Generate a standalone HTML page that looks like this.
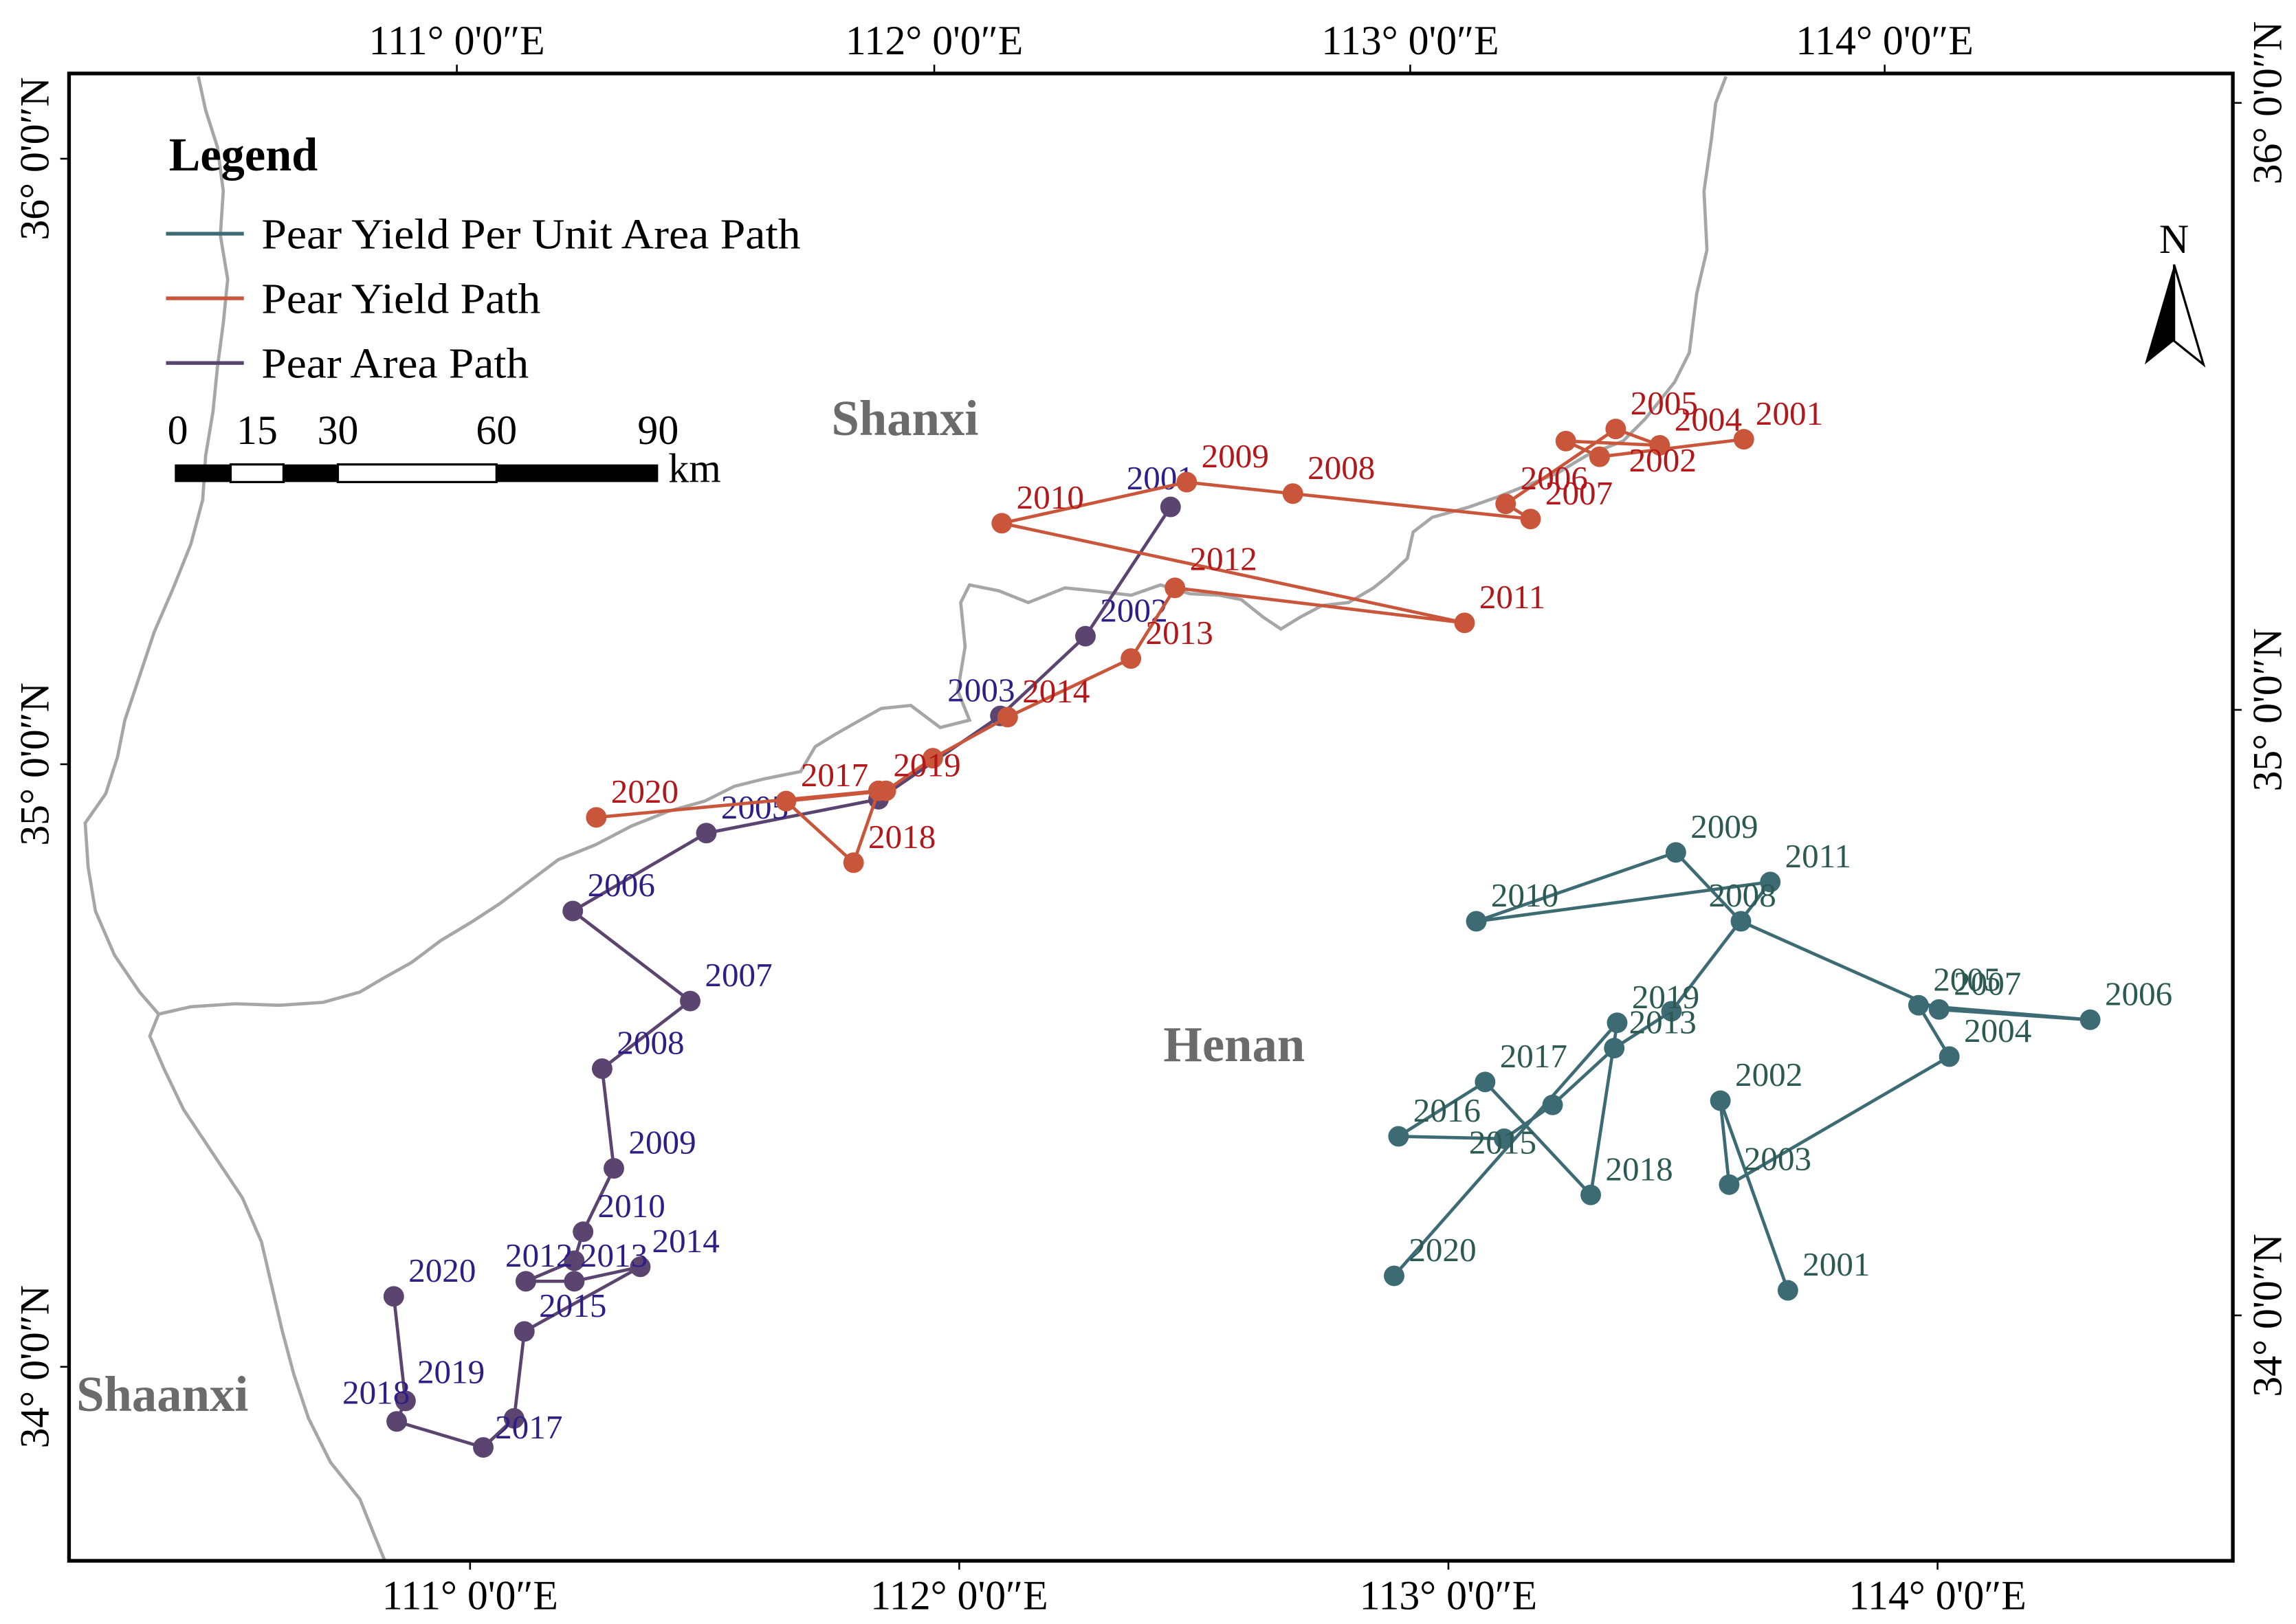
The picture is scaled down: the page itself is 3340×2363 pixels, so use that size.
<!DOCTYPE html>
<html><head><meta charset="utf-8">
<style>
html,body{margin:0;padding:0;background:#fff;}
svg{display:block;}
text{font-family:"Liberation Serif",serif;}
</style></head>
<body>
<svg id="map" width="3340" height="2363" viewBox="0 0 1563 1105" preserveAspectRatio="none" xmlns="http://www.w3.org/2000/svg">
<rect x="0" y="0" width="1563" height="1105" fill="#fff"/>
<g fill="none" stroke="#a6a6a6" stroke-width="2.2">
<path d="M1175,52 L1168,70 L1165,95 L1160,130 L1162,170 L1155,200 L1150,240 L1140,260 L1120,285 L1105,300 L1080,310 L1060,322 L1040,330 L1020,338 L1000,345 L975,352 L962,362 L958,380 L945,392 L935,400 L918,410 L900,412 L885,420 L872,428 L860,420 L845,408 L830,405 L810,404 L790,398 L770,405 L745,402 L725,400 L700,410 L680,402 L660,398 L654,410 L657,440 L652,470 L660,490 L640,495 L620,480 L600,482 L582,492 L568,500 L555,508 L545,525 L520,530 L500,535 L480,545 L455,552 L430,562 L405,575 L380,585 L360,600 L340,615 L320,628 L300,640 L280,655 L262,665 L245,675 L220,682 L190,684 L160,683 L130,685 L108,690 L102,705 L112,728 L125,755 L145,785 L165,815 L178,845 L185,875 L192,905 L200,935 L210,965 L225,995 L245,1020 L255,1045 L262,1062"/>
<path d="M135,52 L140,75 L148,100 L152,130 L150,160 L155,190 L152,220 L148,250 L145,280 L140,310 L138,340 L130,370 L118,400 L105,430 L95,460 L85,490 L80,515 L72,540 L58,560 L60,590 L65,620 L78,650 L95,675 L108,690"/>
</g>
<g>
<rect x="47" y="50" width="1473" height="1012" fill="none" stroke="#000" stroke-width="2.5"/>
</g>
<g id="ticks"></g>
<g id="paths"></g>
<g fill="#6b6b6b" font-weight="bold" font-size="34">
<text x="566" y="296">Shanxi</text>
<text x="792" y="722">Henan</text>
<text x="52" y="960">Shaanxi</text>
</g>
<g>
<text x="115" y="116" font-size="32" font-weight="bold">Legend</text>
<line x1="113" y1="159" x2="166" y2="159" stroke="#3d6b73" stroke-width="2.5"/>
<text x="178" y="169" font-size="29" textLength="367" lengthAdjust="spacingAndGlyphs">Pear Yield Per Unit Area Path</text>
<line x1="113" y1="203" x2="166" y2="203" stroke="#c9553a" stroke-width="2.5"/>
<text x="178" y="213" font-size="29" textLength="190" lengthAdjust="spacingAndGlyphs">Pear Yield Path</text>
<line x1="113" y1="247" x2="166" y2="247" stroke="#5b4470" stroke-width="2.5"/>
<text x="178" y="257" font-size="29" textLength="182" lengthAdjust="spacingAndGlyphs">Pear Area Path</text>
</g>
<g font-size="28">
<rect x="119" y="316" width="38" height="12" fill="#000"/>
<rect x="157" y="316" width="36" height="12" fill="#fff" stroke="#000" stroke-width="1.5"/>
<rect x="193" y="316" width="37" height="12" fill="#000"/>
<rect x="230" y="316" width="108" height="12" fill="#fff" stroke="#000" stroke-width="1.5"/>
<rect x="338" y="316" width="110" height="12" fill="#000"/>
<text x="121" y="302" text-anchor="middle">0</text>
<text x="175" y="302" text-anchor="middle">15</text>
<text x="230" y="302" text-anchor="middle">30</text>
<text x="338" y="302" text-anchor="middle">60</text>
<text x="448" y="302" text-anchor="middle">90</text>
<text x="455" y="328">km</text>
</g>
<g>
<text x="1480" y="172" font-size="28" text-anchor="middle" font-family="Liberation Sans,sans-serif">N</text>
<polygon points="1480,180 1460,248 1480,232" fill="#000"/>
<polygon points="1480,180 1500,248 1480,232" fill="#fff" stroke="#000" stroke-width="1.5"/>
</g>
</svg>
<script>
var areaYears=[2001,2002,2003,2004,2005,2006,2007,2008,2009,2010,2011,2012,2013,2014,2015,2016,2017,2018,2019,2020];
var areaLon=[112.432,112.258,112.084,111.835,111.483,111.210,111.450,111.270,111.294,111.231,111.213,111.114,111.213,111.348,111.111,111.090,111.027,110.850,110.868,110.844];
var areaLat=[35.426,35.212,35.080,34.942,34.886,34.757,34.608,34.496,34.331,34.226,34.178,34.144,34.144,34.168,34.061,33.917,33.869,33.912,33.946,34.119];
var yieldYears=[2001,2002,2003,2004,2005,2006,2007,2008,2009,2010,2011,2012,2013,2014,2015,2016,2017,2018,2019,2020];
var yieldLon=[113.604,113.309,113.240,113.432,113.342,113.117,113.168,112.682,112.465,112.087,113.033,112.441,112.351,112.099,111.946,111.850,111.646,111.784,111.835,111.258];
var yieldLat=[35.538,35.509,35.535,35.528,35.555,35.431,35.406,35.448,35.467,35.399,35.234,35.292,35.175,35.078,35.010,34.956,34.939,34.837,34.956,34.912];
var unitYears=[2001,2002,2003,2004,2005,2006,2007,2008,2009,2010,2011,2012,2013,2014,2015,2016,2017,2018,2019,2020];
var unitLon=[113.694,113.556,113.574,114.024,113.961,114.312,114.003,113.598,113.465,113.057,113.658,113.456,113.339,113.213,113.114,112.898,113.075,113.291,113.345,112.889];
var unitLat=[34.129,34.443,34.304,34.516,34.601,34.577,34.594,34.740,34.854,34.740,34.805,34.591,34.530,34.436,34.380,34.384,34.474,34.287,34.572,34.153];
var hiddenArea=[2004,2011,2016];
var hiddenYield=[2003,2015,2016];
var hiddenUnit=[2012,2014];
var topTickLabels=["111°  0'0″E","112°  0'0″E","113°  0'0″E","114°  0'0″E"];
var sideTickLabels=["36°  0'0″N","35°  0'0″N","34°  0'0″N"];
// label placement tweaks (year -> [dx, dy])
var labelShift={
 'pear-area':{2003:[-36,-10],2001:[-30,-12],2017:[8,-6],2018:[-37,-12],2019:[8,-12],2012:[-14,-10],2013:[4,-10],2014:[8,-10]},
 'pear-yield':{2002:[20,10],2012:[10,-12],2001:[8,-10]},
 'pear-unit-area':{2008:[-22,-10],2015:[-24,10]}
};

var NS='http://www.w3.org/2000/svg';
function xScale(lon){return 320+(lon-111)*333;}
function yScale(lat){return 520-(lat-35)*411;}
function mk(tag,attrs,parent){var e=document.createElementNS(NS,tag);for(var k in attrs)e.setAttribute(k,attrs[k]);parent.appendChild(e);return e;}

var tg=document.getElementById('ticks');
var topX=[311,636,960,1283], botX=[320,653,986,1319], leftY=[108,520,930], rightY=[70,483,895];
for(var i=0;i<4;i++){
  mk('line',{x1:topX[i],y1:44,x2:topX[i],y2:50,stroke:'#000','stroke-width':1.2},tg);
  var t=mk('text',{x:topX[i],y:37,'font-size':28,'text-anchor':'middle'},tg);
  
  
  t.textContent=topTickLabels[i];
  mk('line',{x1:botX[i],y1:1062,x2:botX[i],y2:1068,stroke:'#000','stroke-width':1.2},tg);
  var b=mk('text',{x:botX[i],y:1095,'font-size':28,'text-anchor':'middle'},tg);
  
  
  b.textContent=topTickLabels[i];
}
for(var j=0;j<3;j++){
  mk('line',{x1:41,y1:leftY[j],x2:47,y2:leftY[j],stroke:'#000','stroke-width':1.2},tg);
  var l=mk('text',{x:0,y:0,'font-size':28,'text-anchor':'middle',transform:'translate(33,'+leftY[j]+') rotate(-90)'},tg);
  
  
  l.textContent=sideTickLabels[j];
  mk('line',{x1:1520,y1:rightY[j],x2:1526,y2:rightY[j],stroke:'#000','stroke-width':1.2},tg);
  var r=mk('text',{x:0,y:0,'font-size':28,'text-anchor':'middle',transform:'translate(1553,'+rightY[j]+') rotate(-90)'},tg);
  
  
  r.textContent=sideTickLabels[j];
}

var pg=document.getElementById('paths');
function drawSeries(name,years,lon,lat,lineCol,labCol,hidden){
  var g=mk('g',{},pg);
  
  
  var pts=[];
  for(var i=0;i<years.length;i++)pts.push(xScale(lon[i]).toFixed(1)+','+yScale(lat[i]).toFixed(1));
  var pl=mk('polyline',{points:pts.join(' '),fill:'none',stroke:lineCol,'stroke-width':2.2},g);
  
  
  for(var k=0;k<years.length;k++){
    var c=mk('circle',{cx:xScale(lon[k]),cy:yScale(lat[k]),r:7,fill:lineCol},g);
    
    
  }
  var sh=labelShift[name]||{};
  for(var m=0;m<years.length;m++){
    if(hidden.indexOf(years[m])>=0)continue;
    var d=sh[years[m]]||[10,-10];
    var tx=mk('text',{x:xScale(lon[m])+d[0],y:yScale(lat[m])+d[1],'font-size':23,fill:labCol},g);
    
    
    tx.textContent=years[m];
  }
}
drawSeries('pear-area',areaYears,areaLon,areaLat,'#5b4470','#2e1f86',hiddenArea);
drawSeries('pear-yield',yieldYears,yieldLon,yieldLat,'#c9553a','#b3171a',hiddenYield);
drawSeries('pear-unit-area',unitYears,unitLon,unitLat,'#3d6b73','#2c5a52',hiddenUnit);
</script>
</body></html>
